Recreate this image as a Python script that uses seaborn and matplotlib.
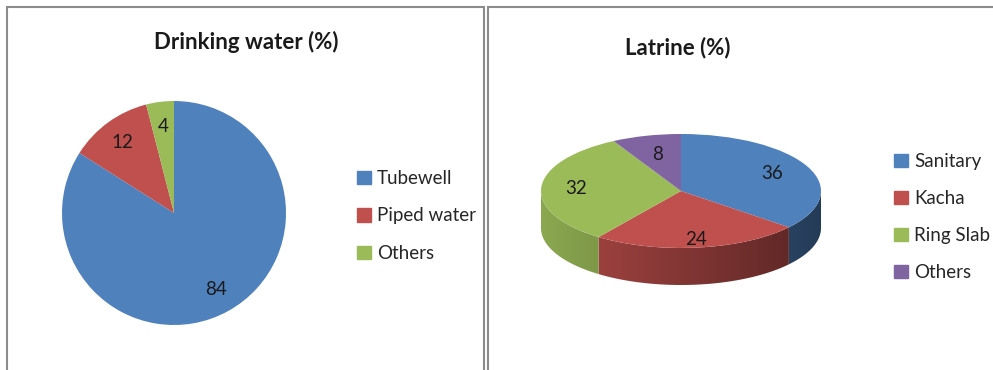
import numpy as np
import matplotlib
matplotlib.use("Agg")
import matplotlib.pyplot as plt
import seaborn as sns
from matplotlib.patches import Rectangle, Patch, Polygon

# Drinking water sources (%)
water_labels = ["Tubewell", "Piped water", "Others"]
water_values = [84, 12, 4]

# Latrine types (%)
latrine_labels = ["Sanitary", "Kacha", "Ring Slab", "Others"]
latrine_values = [36, 24, 32, 8]

sns.set_theme(style="white")
plt.rcParams["font.family"] = ["Lato", "DejaVu Sans"]

office = ["#4F81BD", "#C0504D", "#9BBB59", "#8064A2"]
palette = sns.color_palette(office)

W, H = 993, 370
fig = plt.figure(figsize=(W / 100, H / 100), dpi=100)
fig.patch.set_facecolor("white")


def fx(px):
    return px / W


def fy(py):
    return 1 - py / H


# chart-area frames
for x0, x1 in [(7, 484), (488, 1000)]:
    fig.patches.append(Rectangle((fx(x0), fy(390)), fx(x1 - x0), (390 - 7) / H,
                                 transform=fig.transFigure, fill=False,
                                 edgecolor="#8c8c8c", lw=1.5))

label_kw = dict(fontsize=13.5, color="#1a1a1a")
leg_kw = dict(frameon=False, fontsize=13.5, handlelength=0.7, handleheight=0.7,
              handletextpad=0.35, labelspacing=1.08, borderpad=0,
              bbox_transform=fig.transFigure, loc="center left")

# ---- flat pie: drinking water ----
ax1 = fig.add_axes([fx(62), fy(325), fx(224), 224 / H])
ax1.pie(water_values, colors=palette[:3], startangle=90, counterclock=False,
        autopct=lambda p: f"{p:.0f}", pctdistance=0.78,
        textprops=label_kw, wedgeprops=dict(linewidth=0))
ax1.set_xlim(-1, 1)
ax1.set_ylim(-1, 1)
ax1.set_aspect("auto")
fig.text(fx(246), fy(42), "Drinking water (%)", ha="center", va="center",
         fontsize=16, fontweight="bold", color="#1a1a1a")
ax1.legend(handles=[Patch(color=c, label=l) for c, l in zip(palette[:3], water_labels)],
           bbox_to_anchor=(fx(348), fy(216)), **leg_kw)

# ---- tilted pie with depth: latrine ----
depth = 0.65
ax2 = fig.add_axes([fx(541), fy(285), fx(280), 151 / H])
wedges, _, autotexts = ax2.pie(latrine_values, colors=palette, startangle=90,
                               counterclock=False, autopct=lambda p: f"{p:.0f}",
                               pctdistance=0.7, textprops=label_kw,
                               wedgeprops=dict(linewidth=0))
for w, t in zip(wedges, autotexts):
    w.set_zorder(3)
    t.set_zorder(4)
    # front labels sit further out, as in a perspective view
    m = np.radians(0.5 * (w.theta1 + w.theta2))
    r = 0.76 - 0.10 * np.sin(m)
    t.set_position((r * np.cos(m), r * np.sin(m)))

# front walls, shaded darker towards the right
xs = np.linspace(-1, 1, 400)
shade = 0.68 - 0.22 * xs
for w, col in zip(wedges, palette):
    ts = np.radians(np.linspace(w.theta1, w.theta2, 300))
    ts = ts[np.sin(ts) <= 1e-9]
    if len(ts) < 2:
        continue
    top = np.column_stack([np.cos(ts), np.sin(ts)])
    bottom = np.column_stack([np.cos(ts), np.sin(ts) - depth])[::-1]
    wall = Polygon(np.vstack([top, bottom]), closed=True, facecolor="none",
                   edgecolor="none", transform=ax2.transData)
    ax2.add_patch(wall)
    grad = np.clip(np.array(col)[None, None, :] * shade[None, :, None], 0, 1)
    img = ax2.imshow(grad, extent=(-1, 1, -1 - depth, 1), aspect="auto",
                     interpolation="bilinear", zorder=2)
    img.set_clip_path(wall)

ax2.set_xlim(-1, 1)
ax2.set_ylim(-1 - depth, 1)
ax2.set_aspect("auto")
ax2.axis("off")
fig.text(fx(678), fy(48), "Latrine (%)", ha="center", va="center",
         fontsize=16, fontweight="bold", color="#1a1a1a")
ax2.legend(handles=[Patch(color=c, label=l) for c, l in zip(palette, latrine_labels)],
           bbox_to_anchor=(fx(885), fy(217)), **leg_kw)

fig.savefig("out.png", dpi=100, facecolor="white")
